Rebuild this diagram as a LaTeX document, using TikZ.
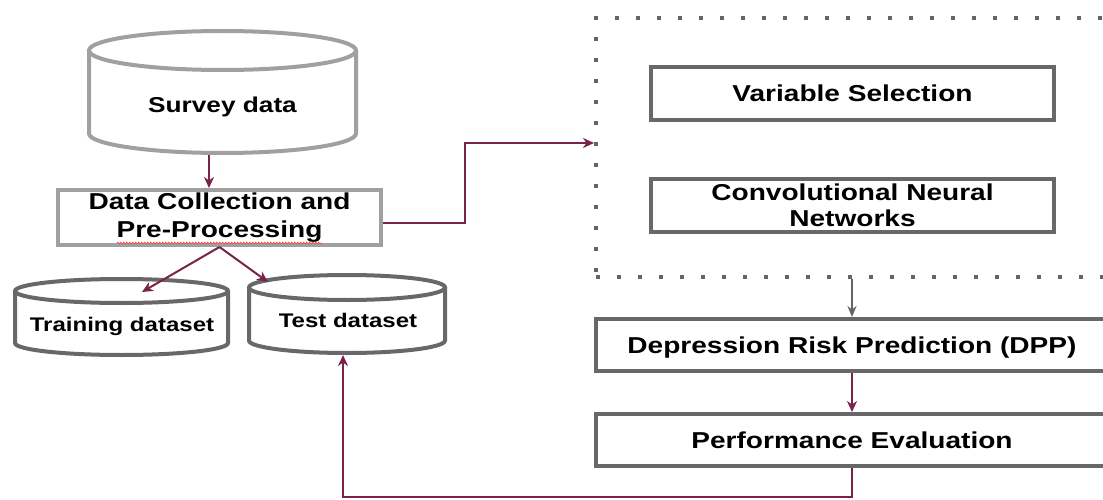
\documentclass[tikz,border=0pt]{standalone}
\usepackage{fontspec}
\setmainfont{Liberation Sans}[FakeStretch=1.22]
\usetikzlibrary{arrows.meta,calc,decorations.pathmorphing}

\definecolor{wine}{RGB}{122,34,74}
\definecolor{lightline}{RGB}{160,160,160}
\definecolor{darkline}{RGB}{104,104,104}
\definecolor{dotline}{RGB}{100,100,100}

\tikzset{
  maintext/.style={font=\bfseries\fontsize{23}{27}\selectfont, align=center, text=black},
  oneline/.style={text height=#1, text depth=0pt},
  lightbox/.style={maintext, draw=lightline, line width=4pt, fill=white, inner sep=0pt},
  darkbox/.style={maintext, draw=darkline, line width=4pt, fill=white, inner sep=0pt},
  drum/.style={line width=4pt, fill=white},
  arr/.style={draw=wine, line width=2pt, -{Stealth[length=11pt,width=10pt,inset=3.5pt]}},
  grayarr/.style={draw=dotline, line width=2pt, -{Stealth[length=11pt,width=9pt,inset=3.5pt]}},
  dotframe/.style={draw=dotline, line width=4pt, dash pattern=on 4pt off 17pt, inner sep=0pt}
}

\begin{document}
\begin{tikzpicture}[x=1pt,y=-1pt]
\useasboundingbox (0,0) rectangle (1103,500);
\fill[white] (0,0) rectangle (1103,500);
\clip (0,0) rectangle (1103,500);

% ---- storage drums ----
% Survey data
\draw[drum, draw=lightline] (89,50.5) -- (89,133.5)
  arc[start angle=180, end angle=360, x radius=133.5pt, y radius=19.5pt] -- (356,50.5);
\draw[drum, draw=lightline] (222.5,50.5) ellipse [x radius=133.5pt, y radius=19.5pt];
\node[maintext, oneline=15.4pt, font=\bfseries\fontsize{21.5}{26}\selectfont]
  (survey) at (222.5,104.5) {Survey data};

% Training dataset
\draw[drum, draw=darkline] (15,291) -- (15,343)
  arc[start angle=180, end angle=360, x radius=106.5pt, y radius=12pt] -- (228,291);
\draw[drum, draw=darkline] (121.5,291) ellipse [x radius=106.5pt, y radius=12pt];
\node[maintext, oneline=14.1pt, font=\bfseries\fontsize{19.7}{24}\selectfont]
  (train) at (122,324.5) {Training dataset};

% Test dataset
\draw[drum, draw=darkline] (249,287.5) -- (249,340.5)
  arc[start angle=180, end angle=360, x radius=98pt, y radius=12.5pt] -- (445,287.5);
\draw[drum, draw=darkline] (347,287.5) ellipse [x radius=98pt, y radius=12.5pt];
\node[maintext, oneline=14.1pt, font=\bfseries\fontsize{19.7}{24}\selectfont]
  (test) at (348,320.5) {Test dataset};

% ---- process boxes ----
\node[lightbox, font=\bfseries\fontsize{23}{27.5}\selectfont,
  minimum width=323pt, minimum height=55pt] (dc) at (219.5,217.5)
  {Data Collection and\\Pre-Processing};
\draw[red!75, line width=0.6pt, decorate,
  decoration={zigzag, amplitude=0.9pt, segment length=3pt}] (117,243) -- (322,243);

\node[dotframe, minimum width=512pt, minimum height=259pt] (grp) at (852,147.5) {};
\node[darkbox, oneline=16.5pt, minimum width=403pt, minimum height=53pt] (vs)
  at (852.5,93.5) {Variable Selection};
\node[darkbox, font=\bfseries\fontsize{23}{26}\selectfont,
  minimum width=403pt, minimum height=53pt] (cnn) at (852.5,205.5)
  {Convolutional Neural\\Networks};

\node[darkbox, oneline=16.5pt, minimum width=512pt, minimum height=52pt] (drp)
  at (852,345) {Depression Risk Prediction (DPP)};
\node[darkbox, oneline=16.5pt, minimum width=512pt, minimum height=52pt] (pe)
  at (852,440) {Performance Evaluation};

% ---- connectors ----
\coordinate (svbot) at (209,155);
\coordinate (traintop) at (142,292);
\coordinate (testtop) at (268,282);
\coordinate (testbot) at (343,355);
\coordinate (bend) at (465,143);
\coordinate (loop) at (852,497);

\draw[arr] (svbot) -- (svbot |- dc.north);
\draw[arr] (dc.south) -- (traintop);
\draw[arr] (dc.south) -- (testtop);
\draw[arr] ($(dc.east)+(0,5.5)$) -| (bend) -- (bend -| grp.west);
\draw[grayarr] (grp.south) -- (drp.north);
\draw[arr] (drp.south) -- (pe.north);
\draw[arr] (pe.south) -- (loop) -| (testbot);
\end{tikzpicture}
\end{document}
